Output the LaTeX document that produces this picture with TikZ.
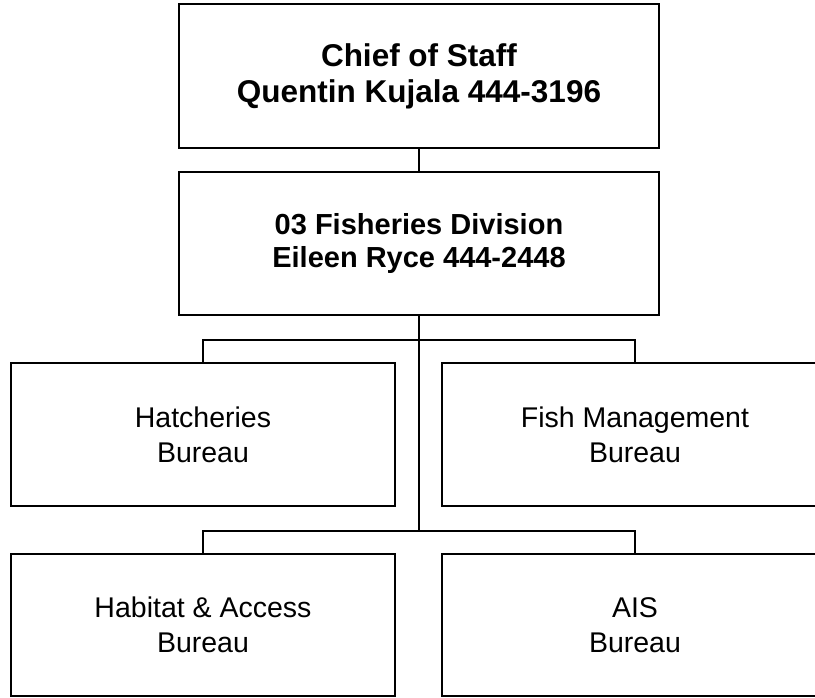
\documentclass[tikz,border=0pt]{standalone}
\usepackage{fontspec}
\setmainfont{Liberation Sans}
\begin{document}
\begin{tikzpicture}[x=1pt,y=-1pt,
  box/.style={draw=black,line width=1.5pt,fill=white,inner sep=0pt,align=center,anchor=center},
  topfont/.style={font=\fontsize{31.5}{36}\selectfont\bfseries},
  divfont/.style={font=\fontsize{29}{33}\selectfont\bfseries},
  burfont/.style={font=\fontsize{28.5}{35}\selectfont},
  conn/.style={draw=black,line width=1.4pt}]
\useasboundingbox (0,0) rectangle (815,698);
\fill[white] (0,0) rectangle (815,698);
\node[box,topfont,minimum width=480pt,minimum height=144pt] (top) at (419,76) {Chief of Staff\\Quentin Kujala 444-3196};
\node[box,divfont,minimum width=480pt,minimum height=143pt] (div) at (419,243.5) {03 Fisheries Division\\Eileen Ryce 444-2448};
\node[box,burfont,minimum width=384pt,minimum height=143pt] (hat) at (203,434.5) {Hatcheries\\Bureau};
\node[box,burfont,minimum width=386pt,minimum height=143pt] (fish) at (635,434.5) {Fish Management\\Bureau};
\node[box,burfont,minimum width=384pt,minimum height=142pt] (hab) at (203,625) {Habitat \& Access\\Bureau};
\node[box,burfont,minimum width=386pt,minimum height=142pt] (ais) at (635,625) {AIS\\Bureau};
\coordinate (j1) at (419,340);
\coordinate (j2) at (419,531);
\draw[conn] (top.south) -- (div.north);
\draw[conn] (div.south) -- (j2);
\draw[conn] (hat.north) -- (hat.north |- j1) -- (fish.north |- j1) -- (fish.north);
\draw[conn] (hab.north) -- (hab.north |- j2) -- (ais.north |- j2) -- (ais.north);
\end{tikzpicture}
\end{document}
